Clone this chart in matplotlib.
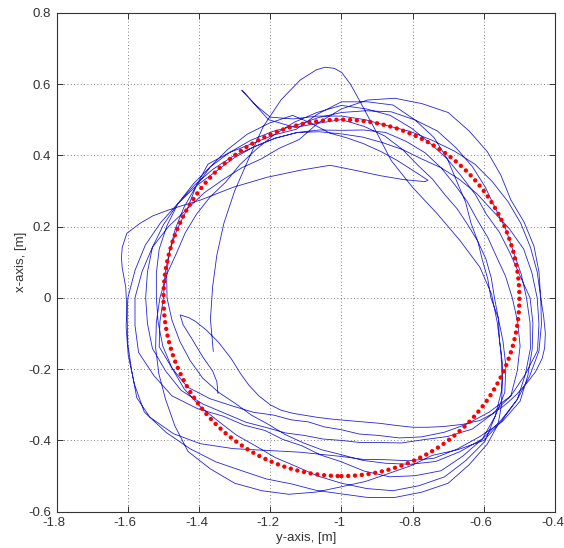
import numpy as np
import matplotlib.pyplot as plt
import matplotlib.transforms as mtransforms
from matplotlib.patches import Circle

plt.rcParams['font.family'] = ['Liberation Sans', 'DejaVu Sans']

# reference circle (red dots)
ref_center = (-1.0, 0.0)
ref_radius = 0.5

start_leg = [(-1.360, -0.150), (-1.368, -0.060), (-1.362, 0.030), (-1.350, 0.120),
             (-1.330, 0.210), (-1.300, 0.300), (-1.265, 0.380), (-1.220, 0.480),
             (-1.170, 0.555), (-1.116, 0.611), (-1.070, 0.640), (-1.046, 0.647),
             (-1.020, 0.644), (-0.999, 0.632), (-0.975, 0.600), (-0.950, 0.555),
             (-0.900, 0.462), (-0.860, 0.385), (-0.800, 0.310), (-0.730, 0.235),
             (-0.667, 0.161), (-0.611, 0.086), (-0.578, 0.010), (-0.562, -0.070),
             (-0.552, -0.150), (-0.548, -0.230), (-0.550, -0.300), (-0.560, -0.355),
             (-0.590, -0.410), (-0.641, -0.468), (-0.700, -0.520), (-0.774, -0.545),
             (-0.850, -0.560), (-0.926, -0.560), (-1.000, -0.550), (-1.071, -0.540),
             (-1.140, -0.522), (-1.211, -0.508), (-1.280, -0.485), (-1.353, -0.460),
             (-1.424, -0.424), (-1.492, -0.378), (-1.554, -0.320), (-1.582, -0.241),
             (-1.599, -0.161), (-1.605, -0.080), (-1.600, 0.000), (-1.580, 0.077),
             (-1.551, 0.148), (-1.508, 0.211), (-1.459, 0.265), (-1.408, 0.314),
             (-1.354, 0.354), (-1.301, 0.393), (-1.245, 0.424), (-1.186, 0.448),
             (-1.124, 0.464), (-1.062, 0.471)]

loop_1 = [(-1.000, 0.470), (-0.938, 0.471), (-0.876, 0.464), (-0.818, 0.439),
          (-0.765, 0.407), (-0.720, 0.365), (-0.682, 0.318), (-0.647, 0.271),
          (-0.619, 0.220), (-0.589, 0.170), (-0.565, 0.117), (-0.539, 0.061),
          (-0.520, 0.000), (-0.505, -0.066), (-0.498, -0.135), (-0.506, -0.205),
          (-0.524, -0.275), (-0.576, -0.326), (-0.632, -0.368), (-0.702, -0.389),
          (-0.770, -0.398), (-0.831, -0.407), (-0.891, -0.406), (-0.946, -0.406),
          (-1.000, -0.400), (-1.052, -0.396), (-1.104, -0.386), (-1.157, -0.379),
          (-1.210, -0.364), (-1.268, -0.349), (-1.325, -0.325), (-1.389, -0.298),
          (-1.450, -0.260), (-1.494, -0.205), (-1.531, -0.142), (-1.545, -0.072),
          (-1.550, 0.000), (-1.545, 0.072), (-1.531, 0.142), (-1.499, 0.207),
          (-1.459, 0.265), (-1.416, 0.320), (-1.368, 0.368), (-1.314, 0.408),
          (-1.255, 0.442), (-1.193, 0.467), (-1.130, 0.483), (-1.067, 0.505)]

loop_2 = [(-1.000, 0.520), (-0.931, 0.525), (-0.860, 0.522), (-0.793, 0.499),
          (-0.730, 0.468), (-0.677, 0.420), (-0.632, 0.368), (-0.596, 0.311),
          (-0.567, 0.250), (-0.538, 0.192), (-0.517, 0.130), (-0.495, 0.067),
          (-0.480, 0.000), (-0.470, -0.070), (-0.469, -0.142), (-0.483, -0.214),
          (-0.506, -0.285), (-0.552, -0.344), (-0.604, -0.396), (-0.668, -0.432),
          (-0.735, -0.459), (-0.807, -0.467), (-0.876, -0.464), (-0.940, -0.456),
          (-1.000, -0.440), (-1.056, -0.426), (-1.109, -0.406), (-1.159, -0.383),
          (-1.205, -0.355), (-1.253, -0.329), (-1.297, -0.297), (-1.345, -0.265),
          (-1.390, -0.225), (-1.425, -0.176), (-1.454, -0.122), (-1.476, -0.063),
          (-1.490, 0.000), (-1.491, 0.065), (-1.483, 0.130), (-1.467, 0.193),
          (-1.442, 0.255), (-1.408, 0.314), (-1.368, 0.368), (-1.320, 0.416),
          (-1.265, 0.459), (-1.203, 0.490), (-1.137, 0.512), (-1.085, 0.490),
          (-1.032, 0.462), (-0.985, 0.449), (-0.939, 0.433), (-0.890, 0.411),
          (-0.844, 0.386), (-0.800, 0.358), (-0.757, 0.330)]

reverse_leg = [(-0.765, 0.326), (-0.827, 0.332), (-0.892, 0.343), (-0.957, 0.357),
               (-1.032, 0.372), (-1.116, 0.358), (-1.210, 0.338), (-1.305, 0.310),
               (-1.397, 0.274), (-1.450, 0.258), (-1.490, 0.245), (-1.530, 0.230),
               (-1.566, 0.209), (-1.603, 0.181), (-1.616, 0.141), (-1.618, 0.112),
               (-1.616, 0.085), (-1.606, 0.030), (-1.602, -0.050), (-1.600, -0.130),
               (-1.590, -0.200), (-1.575, -0.280), (-1.538, -0.335), (-1.472, -0.381),
               (-1.397, -0.409), (-1.304, -0.423), (-1.210, -0.428), (-1.116, -0.433),
               (-1.000, -0.445), (-0.940, -0.453), (-0.878, -0.454), (-0.810, -0.457),
               (-0.740, -0.450), (-0.674, -0.424), (-0.611, -0.389), (-0.548, -0.347),
               (-0.498, -0.290), (-0.476, -0.217), (-0.464, -0.144), (-0.462, -0.071),
               (-0.470, 0.000), (-0.500, 0.066), (-0.527, 0.127), (-0.556, 0.184),
               (-0.593, 0.235), (-0.623, 0.289), (-0.661, 0.339), (-0.702, 0.389),
               (-0.750, 0.433), (-0.803, 0.476), (-0.863, 0.512), (-0.930, 0.530),
               (-1.000, 0.540), (-1.069, 0.520), (-1.132, 0.493), (-1.190, 0.457),
               (-1.240, 0.416), (-1.286, 0.373), (-1.325, 0.325), (-1.369, 0.283),
               (-1.407, 0.235), (-1.439, 0.182), (-1.464, 0.124), (-1.491, 0.065),
               (-1.510, 0.000), (-1.520, -0.069), (-1.522, -0.140), (-1.513, -0.213),
               (-1.494, -0.285), (-1.468, -0.359), (-1.431, -0.431), (-1.368, -0.480),
               (-1.300, -0.520), (-1.224, -0.541), (-1.148, -0.551), (-1.072, -0.545),
               (-1.000, -0.530), (-0.932, -0.515), (-0.868, -0.493), (-0.805, -0.471),
               (-0.745, -0.442), (-0.673, -0.426), (-0.600, -0.400), (-0.550, -0.346),
               (-0.506, -0.285), (-0.471, -0.219), (-0.445, -0.149), (-0.438, -0.074),
               (-0.440, 0.000), (-0.450, 0.073), (-0.469, 0.142), (-0.496, 0.209),
               (-0.532, 0.270), (-0.576, 0.326), (-0.625, 0.375), (-0.683, 0.412),
               (-0.745, 0.442), (-0.807, 0.467), (-0.871, 0.483), (-0.934, 0.500),
               (-1.000, 0.510), (-1.067, 0.510), (-1.135, 0.502), (-1.200, 0.507),
               (-1.240, 0.540), (-1.280, 0.583)]

loop_3 = [(-1.205, 0.500), (-1.130, 0.478), (-1.065, 0.490),
          (-1.000, 0.500), (-0.936, 0.481), (-0.878, 0.454), (-0.828, 0.416),
          (-0.785, 0.372), (-0.744, 0.333), (-0.710, 0.290), (-0.675, 0.250),
          (-0.645, 0.205), (-0.617, 0.159), (-0.594, 0.109), (-0.579, 0.056),
          (-0.570, 0.000), (-0.559, -0.058), (-0.556, -0.119), (-0.547, -0.188),
          (-0.550, -0.260), (-0.568, -0.332), (-0.597, -0.403), (-0.650, -0.456),
          (-0.710, -0.502), (-0.782, -0.527), (-0.855, -0.541), (-0.929, -0.535),
          (-1.000, -0.520), (-1.066, -0.500), (-1.127, -0.473), (-1.186, -0.448),
          (-1.240, -0.416), (-1.295, -0.385), (-1.346, -0.346), (-1.397, -0.305),
          (-1.442, -0.255), (-1.476, -0.197), (-1.502, -0.135), (-1.515, -0.068),
          (-1.520, 0.000), (-1.520, 0.069), (-1.512, 0.137), (-1.490, 0.203),
          (-1.459, 0.265), (-1.412, 0.317), (-1.361, 0.361), (-1.305, 0.397),
          (-1.245, 0.424), (-1.186, 0.448), (-1.124, 0.464), (-1.062, 0.466)]

loop_4 = [(-1.000, 0.460), (-0.940, 0.451), (-0.883, 0.435), (-0.828, 0.416),
          (-0.775, 0.390), (-0.720, 0.365), (-0.668, 0.332), (-0.619, 0.292),
          (-0.576, 0.245), (-0.529, 0.195), (-0.488, 0.137), (-0.465, 0.071),
          (-0.450, 0.000), (-0.445, -0.073), (-0.449, -0.148), (-0.483, -0.214),
          (-0.524, -0.275), (-0.584, -0.320), (-0.647, -0.354), (-0.711, -0.377),
          (-0.775, -0.390), (-0.837, -0.393), (-0.896, -0.386), (-0.950, -0.382),
          (-1.000, -0.370), (-1.048, -0.362), (-1.093, -0.348), (-1.142, -0.342),
          (-1.190, -0.329), (-1.247, -0.321), (-1.304, -0.304), (-1.369, -0.283),
          (-1.433, -0.250), (-1.476, -0.197), (-1.512, -0.137), (-1.510, -0.067),
          (-1.500, 0.000), (-1.496, 0.066), (-1.483, 0.130), (-1.462, 0.192),
          (-1.433, 0.250), (-1.408, 0.314), (-1.375, 0.375), (-1.314, 0.408),
          (-1.250, 0.433), (-1.190, 0.457), (-1.127, 0.473), (-1.068, 0.515)]

loop_5 = [(-1.000, 0.550), (-0.927, 0.550), (-0.855, 0.541), (-0.793, 0.499),
          (-0.740, 0.450), (-0.702, 0.389), (-0.675, 0.325), (-0.651, 0.268),
          (-0.636, 0.210), (-0.617, 0.159), (-0.604, 0.106), (-0.589, 0.054),
          (-0.580, 0.000), (-0.559, -0.058), (-0.546, -0.122), (-0.538, -0.192),
          (-0.541, -0.265), (-0.568, -0.332), (-0.604, -0.396), (-0.659, -0.444),
          (-0.720, -0.485), (-0.793, -0.499), (-0.865, -0.502), (-0.936, -0.486),
          (-1.000, -0.460), (-1.058, -0.441), (-1.111, -0.415), (-1.165, -0.397),
          (-1.215, -0.372), (-1.274, -0.357), (-1.332, -0.332), (-1.404, -0.311),
          (-1.476, -0.275), (-1.527, -0.218), (-1.570, -0.153), (-1.580, -0.077),
          (-1.580, 0.000), (-1.560, 0.074), (-1.531, 0.142), (-1.485, 0.201),
          (-1.433, 0.250), (-1.385, 0.295), (-1.332, 0.332), (-1.280, 0.365),
          (-1.225, 0.390), (-1.174, 0.420), (-1.119, 0.444), (-1.065, 0.491)]

loop_6 = [(-1.000, 0.530), (-0.927, 0.555), (-0.850, 0.560), (-0.774, 0.545),
          (-0.700, 0.520), (-0.641, 0.468), (-0.590, 0.410), (-0.552, 0.344),
          (-0.524, 0.275), (-0.487, 0.213), (-0.459, 0.145), (-0.445, 0.073),
          (-0.440, 0.000), (-0.432, -0.050), (-0.427, -0.100), (-0.429, -0.140),
          (-0.436, -0.170), (-0.455, -0.208), (-0.480, -0.240), (-0.507, -0.270),
          (-0.536, -0.297), (-0.572, -0.323), (-0.611, -0.344), (-0.660, -0.355),
          (-0.714, -0.361), (-0.757, -0.363), (-0.800, -0.363), (-0.846, -0.358),
          (-0.892, -0.352), (-0.940, -0.348), (-0.985, -0.344), (-1.028, -0.340),
          (-1.069, -0.335), (-1.136, -0.324), (-1.170, -0.315), (-1.200, -0.300),
          (-1.232, -0.275), (-1.260, -0.245), (-1.285, -0.210), (-1.310, -0.170),
          (-1.345, -0.125), (-1.380, -0.090), (-1.410, -0.066), (-1.430, -0.055),
          (-1.453, -0.048)]

end_hook = [(-1.445, -0.075), (-1.420, -0.115), (-1.390, -0.165), (-1.362, -0.205),
            (-1.350, -0.235), (-1.347, -0.268)]

x_ticks = [-1.8, -1.6, -1.4, -1.2, -1.0, -0.8, -0.6, -0.4]
x_tick_labels = ['-1.8', '-1.6', '-1.4', '-1.2', '-1', '-0.8', '-0.6', '-0.4']
y_ticks = [-0.6, -0.4, -0.2, 0.0, 0.2, 0.4, 0.6, 0.8]
y_tick_labels = ['-0.6', '-0.4', '-0.2', '0', '0.2', '0.4', '0.6', '0.8']

fig = plt.figure(figsize=(5.64, 5.48), dpi=100)
ax = fig.add_axes([0.1005, 0.0662, 0.8835, 0.9106])

path = np.array(start_leg + loop_1 + loop_2 + reverse_leg + loop_3 + loop_4
                + loop_5 + loop_6 + end_hook)
ax.plot(path[:, 0], path[:, 1], color=(0.14, 0.14, 0.84), lw=0.6, zorder=2)

# red dotted reference
ring = Circle(ref_center, ref_radius, fill=False, ec='red', lw=3.2,
              ls=(0, (0.01, 1.52)), capstyle='round', zorder=3)
ax.add_patch(ring)

ax.set_xlim(-1.8, -0.4)
ax.set_ylim(-0.6, 0.8)
ax.set_xticks(x_ticks)
ax.set_xticklabels(x_tick_labels)
ax.set_yticks(y_ticks)
ax.set_yticklabels(y_tick_labels)

ax.grid(True, color='#555555', ls=(0, (1, 3)), lw=0.6)
ax.tick_params(direction='in', top=True, right=True, length=4, width=0.7,
               colors='#333333', labelsize=9.5, pad=4)
for s in ax.spines.values():
    s.set_color('#333333')
    s.set_linewidth(0.8)

# matlab puts x tick labels a touch left of the tick
shift = mtransforms.ScaledTranslation(-2.5 / 100, 0, fig.dpi_scale_trans)
for lab in ax.get_xticklabels():
    lab.set_transform(lab.get_transform() + shift)

ax.set_xlabel('y-axis, [m]', fontsize=9.5, color='#333333', labelpad=2)
ax.set_ylabel('x-axis, [m]', fontsize=9.5, color='#333333', labelpad=1)

fig.savefig('out.png', dpi=100)
